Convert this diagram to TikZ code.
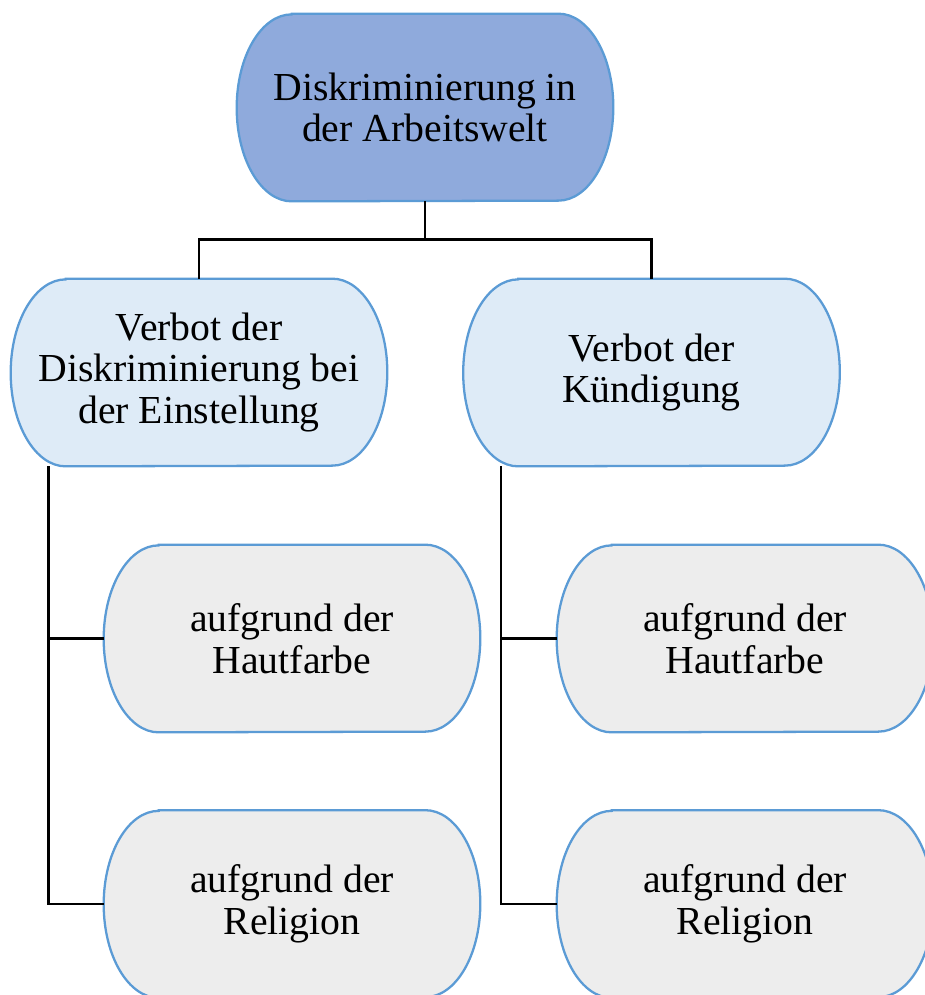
\documentclass[tikz,border=0pt]{standalone}
\usepackage{fontspec}
\setmainfont{Liberation Serif}
\usetikzlibrary{calc}
\usetikzlibrary{positioning}
\usetikzlibrary{backgrounds}

\definecolor{topblue}{HTML}{8FAADC}
\definecolor{paleblue}{HTML}{DEEBF7}
\definecolor{palegray}{HTML}{EDEDED}
\definecolor{pillline}{HTML}{5B9BD5}

\tikzset{
  pill/.style={rectangle, minimum width=7.52cm, minimum height=3.74cm, inner sep=0pt,
    align=center, font=\fontsize{22.6}{23.6}\selectfont},
  pilledge/.style={draw=pillline, line width=1.3pt},
  tree/.style={draw=black, line width=1.4pt}
}

% box with elliptic ends round a named node
\newcommand{\pillshape}[2]{%
  \path[pilledge, fill=#2] ($(#1.north west)+(1.1cm,0)$) -- ($(#1.north east)+(-1.1cm,0)$)
    arc[start angle=90, end angle=-90, x radius=1.1cm, y radius=1.87cm]
    -- ($(#1.south west)+(1.1cm,0)$)
    arc[start angle=270, end angle=90, x radius=1.1cm, y radius=1.87cm] -- cycle;}

\begin{document}
\begin{tikzpicture}[x=0.02cm, y=-0.02cm]

\useasboundingbox (0,0) rectangle (924,995);

% top
\node[pill] (theme) at (425,107.5) {Diskriminierung in\\der Arbeitswelt};

% second row
\node[pill] (hiring) at (199,372.5) {Verbot der\\Diskriminierung bei\\der Einstellung};
\node[pill] (firing) at (651.5,372.5) {Verbot der\\K\"undigung};

% third row
\node[pill] (hiringskin) at (292,638.5) {aufgrund der\\Hautfarbe};
\node[pill] (hiringfaith) at (292,904) {aufgrund der\\Religion};
\node[pill] (firingskin) at (745,638.5) {aufgrund der\\Hautfarbe};
\node[pill] (firingfaith) at (745,904) {aufgrund der\\Religion};

\begin{scope}[on background layer]
\pillshape{theme}{topblue}
\pillshape{hiring}{paleblue}
\pillshape{firing}{paleblue}
\pillshape{hiringskin}{palegray}
\pillshape{hiringfaith}{palegray}
\pillshape{firingskin}{palegray}
\pillshape{firingfaith}{palegray}
\end{scope}

% connectors
\draw[tree] (theme.south) -- ++(0,38) coordinate (fork) -| (hiring.north);
\draw[tree] (fork) -| (firing.north);

\coordinate (hiringstem) at ($(hiring.south west)+(38,0)$);
\coordinate (firingstem) at ($(firing.south west)+(38,0)$);

\draw[tree] (hiringstem) |- (hiringfaith.west);
\draw[tree] (hiringskin.west) -- (hiringskin.west -| hiringstem);
\draw[tree] (firingstem) |- (firingfaith.west);
\draw[tree] (firingskin.west) -- (firingskin.west -| firingstem);

\end{tikzpicture}
\end{document}
